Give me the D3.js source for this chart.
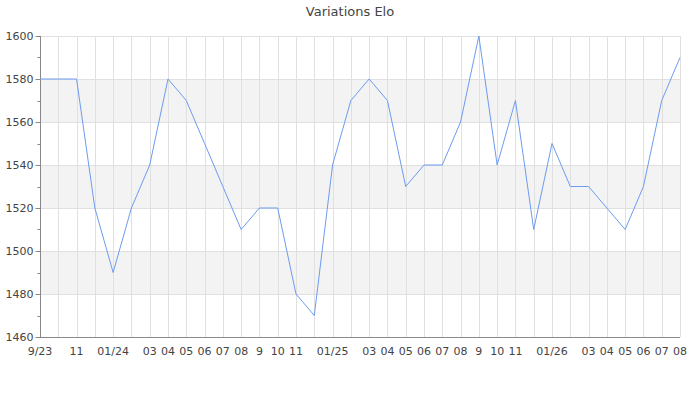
<!DOCTYPE html>
<html><head><meta charset="utf-8">
<script src="https://cdn.jsdelivr.net/npm/d3@7"></script>
<style>body{margin:0;background:#fff}svg{display:block}text{font-family:"DejaVu Sans",sans-serif}</style>
</head><body><svg id="c" width="700" height="400"></svg>
<script>
const months = ["9/23","10/23","11/23","12/23","01/24","02/24","03/24","04/24","05/24","06/24","07/24","08/24","09/24","10/24","11/24","12/24","01/25","02/25","03/25","04/25","05/25","06/25","07/25","08/25","09/25","10/25","11/25","12/25","01/26","02/26","03/26","04/26","05/26","06/26","07/26","08/26"];
const tickLabels = ["9/23","","11","","01/24","","03","04","05","06","07","08","9","10","11","","01/25","","03","04","05","06","07","08","9","10","11","","01/26","","03","04","05","06","07","08"];
const elo = [1580,1580,1580,1520,1490,1520,1540,1580,1570,1550,1530,1510,1520,1520,1480,1470,1540,1570,1580,1570,1530,1540,1540,1560,1600,1540,1570,1510,1550,1530,1530,1520,1510,1530,1570,1590];
const yTicks = [1460,1480,1500,1520,1540,1560,1580,1600];
const yMinor = [1470,1490,1510,1530,1550,1570,1590];
const bands = [[1560,1580],[1520,1540],[1480,1500]];
const title = "Variations Elo";

const svg = d3.select("#c");
const L=40,R=680,T=36,B=337;
const x = d3.scalePoint().domain(months).range([L,R]);
const y = d3.scaleLinear().domain([1460,1600]).range([B,T]);

svg.append("g").selectAll("rect").data(bands).join("rect")
 .attr("x",L).attr("width",R-L).attr("y",d=>y(d[1])).attr("height",d=>y(d[0])-y(d[1])).attr("fill","#f3f3f3");

svg.append("g").selectAll("line").data(yTicks).join("line")
 .attr("x1",L).attr("x2",R).attr("y1",d=>Math.round(y(d))+0.5).attr("y2",d=>Math.round(y(d))+0.5)
 .attr("stroke","#e0e0e0");
svg.append("g").selectAll("line").data(months).join("line")
 .attr("x1",d=>Math.round(x(d))+0.5).attr("x2",d=>Math.round(x(d))+0.5).attr("y1",T).attr("y2",B)
 .attr("stroke","#e0e0e0");

// y axis
const ya = svg.append("g").attr("transform",`translate(${L+0.5},0)`);
ya.append("line").attr("y1",T).attr("y2",B).attr("stroke","#888");
ya.selectAll(".mj").data(yTicks).join("line").attr("class","mj")
 .attr("x1",-5).attr("x2",0).attr("y1",d=>Math.round(y(d))+0.5).attr("y2",d=>Math.round(y(d))+0.5).attr("stroke","#888");
ya.selectAll(".mn").data(yMinor).join("line").attr("class","mn")
 .attr("x1",-3).attr("x2",0).attr("y1",d=>Math.round(y(d))+0.5).attr("y2",d=>Math.round(y(d))+0.5).attr("stroke","#888");
ya.selectAll("text").data(yTicks).join("text")
 .attr("x",-7).attr("y",d=>y(d)).attr("dy","0.35em").attr("text-anchor","end")
 .attr("font-size",11).attr("fill","#444").text(d=>d);

// x axis
svg.append("line").attr("x1",L).attr("x2",R).attr("y1",B+0.5).attr("y2",B+0.5).attr("stroke","#888");
svg.append("g").selectAll("text").data(months).join("text")
 .attr("x",d=>x(d)).attr("y",355).attr("text-anchor","middle")
 .attr("font-size",11).attr("fill","#444").text((d,i)=>tickLabels[i]);

// line
svg.append("path").datum(elo)
 .attr("d",d3.line().x((d,i)=>x(months[i])).y(d=>y(d)))
 .attr("fill","none").attr("stroke","#6d9bf1").attr("stroke-width",1);

svg.append("text").attr("x",350).attr("y",16).attr("text-anchor","middle")
 .attr("font-size",13).attr("fill","#444").text(title);
</script></body></html>
